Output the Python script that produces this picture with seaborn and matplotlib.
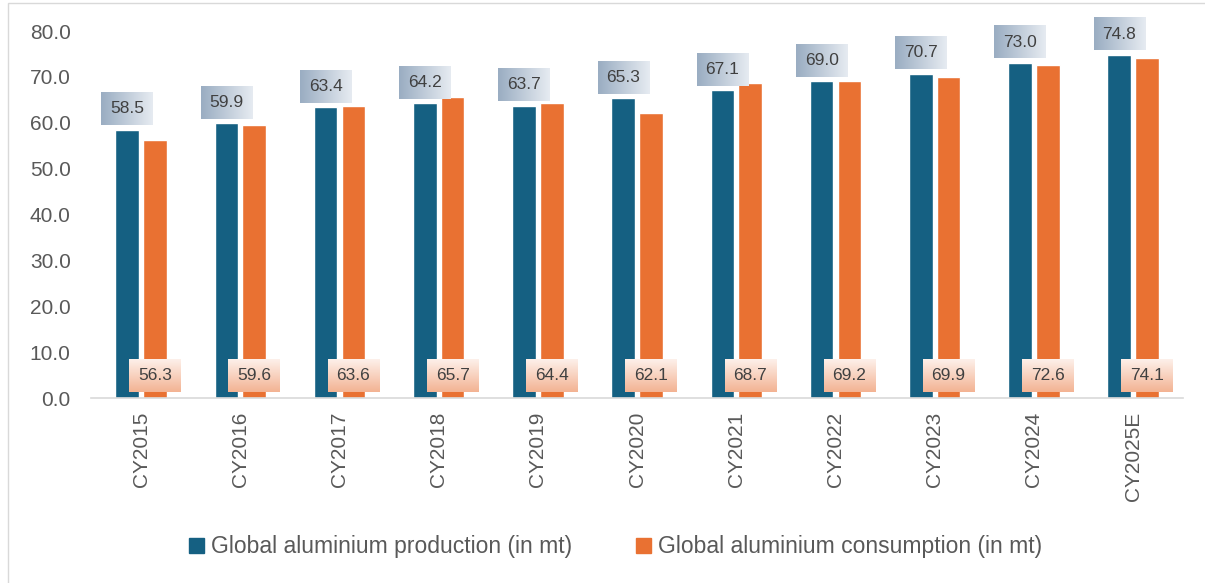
import numpy as np
import pandas as pd
import seaborn as sns
import matplotlib.pyplot as plt
from matplotlib.patches import Rectangle
from matplotlib.colors import LinearSegmentedColormap

# data
years = ['CY2015', 'CY2016', 'CY2017', 'CY2018', 'CY2019', 'CY2020',
         'CY2021', 'CY2022', 'CY2023', 'CY2024', 'CY2025E']
production = [58.5, 59.9, 63.4, 64.2, 63.7, 65.3, 67.1, 69.0, 70.7, 73.0, 74.8]
consumption = [56.3, 59.6, 63.6, 65.7, 64.4, 62.1, 68.7, 69.2, 69.9, 72.6, 74.1]
series_names = ['Global aluminium production (in mt)',
                'Global aluminium consumption (in mt)']

df = pd.DataFrame({
    'year': years * 2,
    'value': production + consumption,
    'series': [series_names[0]] * len(years) + [series_names[1]] * len(years),
})

sns.set_style('white')
plt.rcParams['font.family'] = ['Liberation Sans', 'DejaVu Sans']

fig = plt.figure(figsize=(12.05, 5.83), dpi=100)
ax = fig.add_axes([0.0759, 0.3173, 0.9056, 0.6295])

palette = {series_names[0]: '#156082', series_names[1]: '#E97132'}
sns.barplot(data=df, x='year', y='value', hue='series', palette=palette,
            width=0.56, gap=0.15, saturation=1, ax=ax, legend=True)

ax.set_ylim(0, 80)
ax.set_xlim(-0.5, len(years) - 0.5)
ax.set_yticks(np.arange(0, 81, 10))
ax.set_yticklabels([f'{v:.1f}' for v in np.arange(0, 81, 10)])
ax.tick_params(axis='y', labelsize=15, labelcolor='#595959', length=0, pad=15)
ax.tick_params(axis='x', labelsize=15, labelcolor='#595959', length=0,
               rotation=90, pad=10)
ax.set_xlabel('')
ax.set_ylabel('')
for s in ['top', 'right', 'left']:
    ax.spines[s].set_visible(False)
ax.spines['bottom'].set_color('#d9d9d9')
ax.spines['bottom'].set_linewidth(1.2)

# labels
prod_bars = ax.containers[0]
cons_bars = ax.containers[1]
labels = []
for bar, v in zip(prod_bars, production):
    t = ax.annotate(f'{v:.1f}', (bar.get_x() + bar.get_width() / 2, v),
                    xytext=(0, 15), textcoords='offset points',
                    ha='center', va='center', fontsize=12.5, color='#404040',
                    annotation_clip=False, zorder=5,
                    bbox=dict(boxstyle='square,pad=0.5', fc='none', ec='none'))
    labels.append((t, 'h'))
for bar, v in zip(cons_bars, consumption):
    t = ax.annotate(f'{v:.1f}', (bar.get_x() + bar.get_width() / 2, 0),
                    xytext=(0, 16), textcoords='offset points',
                    ha='center', va='center', fontsize=12.5, color='#404040',
                    annotation_clip=False, zorder=5,
                    bbox=dict(boxstyle='square,pad=0.5', fc='none', ec='none'))
    labels.append((t, 'v'))

# gradient fills behind the label boxes
fig.canvas.draw()
inv = ax.transData.inverted()
grad_h = np.linspace(0, 1, 64).reshape(1, -1)
grad_v = np.linspace(0, 1, 64).reshape(-1, 1)
cmap_h = LinearSegmentedColormap.from_list('h', ['#9aadc2', '#e6ebf1'])
cmap_v = LinearSegmentedColormap.from_list('v', ['#f3b393', '#fdf0ea'])
for t, kind in labels:
    bb = t.get_bbox_patch().get_window_extent()
    (x0, y0), (x1, y1) = inv.transform([[bb.x0, bb.y0], [bb.x1, bb.y1]])
    grad, cmap = (grad_h, cmap_h) if kind == 'h' else (grad_v, cmap_v)
    ax.imshow(grad, cmap=cmap, extent=[x0, x1, y0, y1], aspect='auto',
              origin='lower', zorder=4, clip_on=False)
ax.set_ylim(0, 80)
ax.set_xlim(-0.5, len(years) - 0.5)
ax.set_aspect('auto')

# legend
ax.get_legend().remove()
handles = [Rectangle((0, 0), 1, 1, color=palette[n]) for n in series_names]
fig.legend(handles, series_names, loc='center', bbox_to_anchor=(0.511, 0.062),
           ncol=2, frameon=False, fontsize=16.5, handlelength=0.65,
           handleheight=0.65, handletextpad=0.3, columnspacing=2.8,
           labelcolor='#595959')

# light frame around the chart
fig.patches.append(Rectangle((0.007, -0.01), 1.0, 1.005, transform=fig.transFigure,
                             fill=False, ec='#d9d9d9', lw=1))

fig.savefig('out.png', dpi=100)
